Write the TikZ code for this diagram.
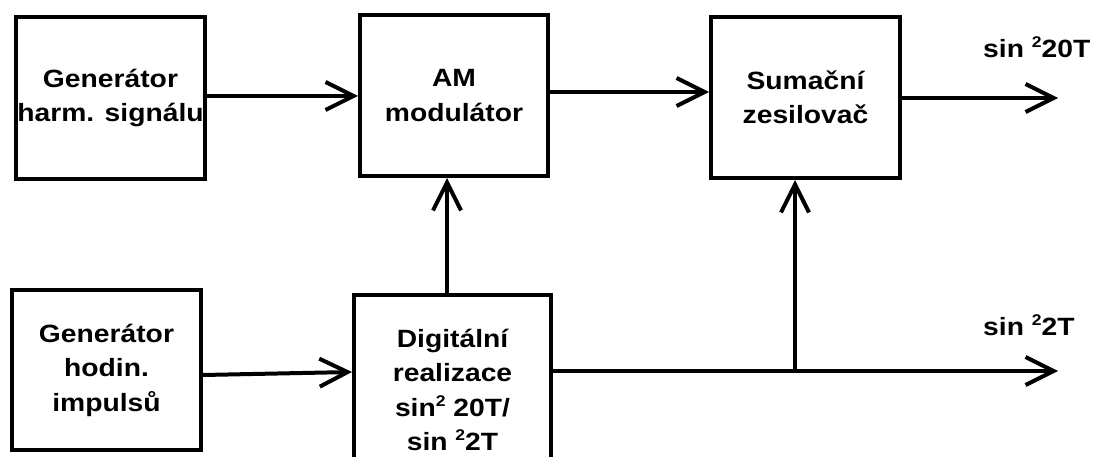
\documentclass[tikz,border=0pt]{standalone}
\usepackage{fontspec}
\setmainfont{Liberation Sans}[FakeStretch=1.13]
\usetikzlibrary{arrows.meta}
\newcommand\spow{\raisebox{0.4em}{\fontsize{15.5}{15.5}\selectfont 2}}
\begin{document}
\begin{tikzpicture}[x=1pt,y=-1pt,
  box/.style={draw, line width=4pt, inner sep=0pt, align=center,
    font=\bfseries\fontsize{25}{34.5}\selectfont},
  arr/.style={line width=4pt, -{Straight Barb[length=28pt,width=28pt]}},
  lbl/.style={font=\bfseries\fontsize{25}{34.5}\selectfont, inner sep=0pt}]
\useasboundingbox (0,0) rectangle (1096,457);
\clip (0,0) rectangle (1096,457);
% boxes
\node[box, minimum width=189pt, minimum height=162pt] (gh) at (110.5,98) {Generátor\\harm. signálu};
\node[box, minimum width=188pt, minimum height=161pt] (am) at (454,95.5) {AM\\modulátor};
\node[box, minimum width=189pt, minimum height=161pt] (sum) at (805.5,97.5) {Sumační\\zesilovač};
\node[box, minimum width=189pt, minimum height=160pt] (hod) at (106.5,370) {Generátor\\hodin.\\impulsů};
\node[box, minimum width=197pt, minimum height=190pt] (dig) at (452.5,390) {Digitální\\realizace\\sin\spow{} 20T/\\sin \spow2T};
% free ends
\coordinate (o1) at (1058,98);
\coordinate (o2) at (1058,371);
\coordinate (j) at (795,371);
% labels
\node[lbl, anchor=base west] (l1) at (983,58) {sin \spow20T};
\node[lbl, anchor=base west] (l2) at (983,335) {sin \spow2T};
% connectors
\draw[arr] (gh.east |- 0,96) -- (am.west |- 0,96);
\draw[arr] (am.east |- 0,92) -- (sum.west |- 0,92);
\draw[arr] (sum.east |- 0,98) -- (o1);
\draw[arr] (hod.east |- 0,375) -- (dig.west |- 0,372);
\draw[arr] (dig.north -| 447,0) -- (am.south -| 447,0);
\draw[arr] (dig.east |- o2) -- (o2);
\draw[arr] (j) -- (sum.south -| j);
\end{tikzpicture}
\end{document}
